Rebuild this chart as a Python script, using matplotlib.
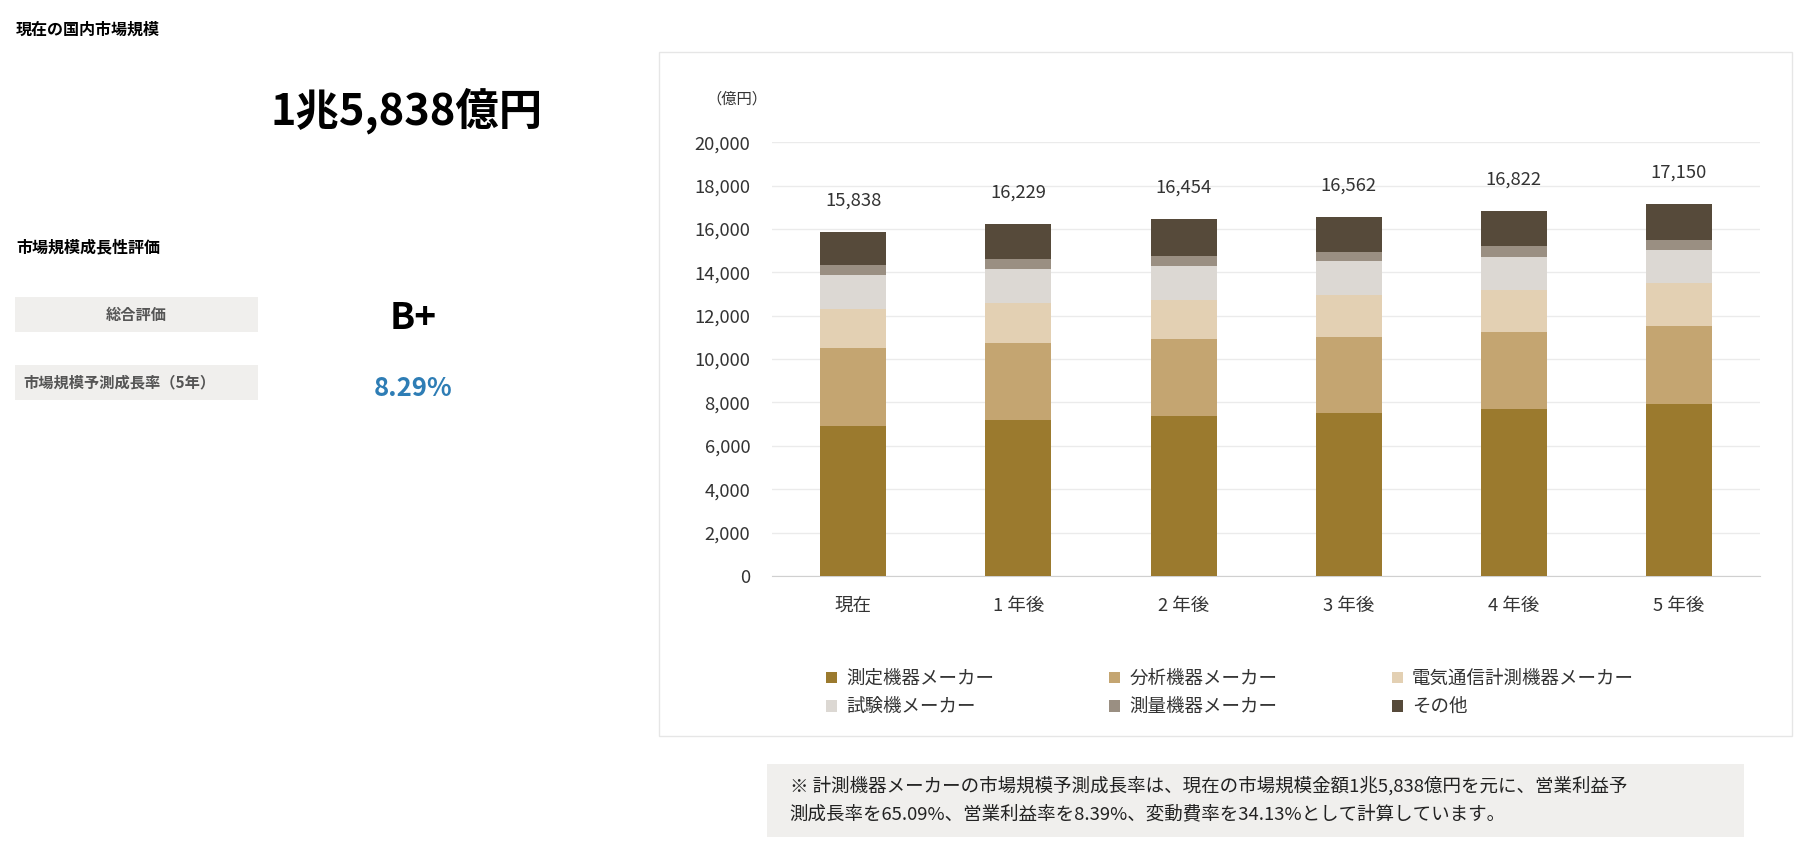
import matplotlib
matplotlib.use("Agg")
import matplotlib.pyplot as plt
from matplotlib.patches import Rectangle

plt.rcParams["font.family"] = ["Noto Sans CJK JP", "DejaVu Sans"]

categories = ["現在", "1 年後", "2 年後", "3 年後", "4 年後", "5 年後"]
series_names = ["測定機器メーカー", "分析機器メーカー", "電気通信計測機器メーカー",
                "試験機メーカー", "測量機器メーカー", "その他"]
measure = [6930, 7200, 7360, 7520, 7680, 7950]
analysis = [3580, 3520, 3570, 3520, 3570, 3570]
telecom = [1810, 1870, 1810, 1920, 1920, 1970]
testing = [1550, 1550, 1550, 1550, 1550, 1550]
survey = [480, 480, 480, 420, 480, 430]
other = [1488, 1609, 1684, 1632, 1622, 1680]
totals = [15838, 16229, 16454, 16562, 16822, 17150]
colors = ["#9B7A2E", "#C4A571", "#E3D0B3", "#DCD8D3", "#9A8F82", "#564A3A"]
yticks = list(range(0, 20001, 2000))

# layout measured on a 1568x735 view of the reference
W, H = 1568, 735
S = 1813 / 1568
fig = plt.figure(figsize=(18.13, 8.5), dpi=100)
def fx(px): return px / W
def fy(py): return 1 - py / H
def fs(v): return v * S

fig.text(fx(14), fy(26), "現在の国内市場規模", fontsize=fs(10), fontweight="bold", va="center")
fig.text(fx(352), fy(96), "1兆5,838億円", fontsize=fs(27), fontweight="bold", ha="center", va="center")
fig.text(fx(14), fy(214), "市場規模成長性評価", fontsize=fs(10), fontweight="bold", va="center")
for y0 in (257, 316):
    fig.patches.append(Rectangle((fx(13), fy(y0+30)), fx(210), 30/H, transform=fig.transFigure,
                                 facecolor="#F0EFED", edgecolor="none", zorder=-5))
fig.text(fx(118), fy(272), "総合評価", fontsize=fs(9.5), fontweight="bold", color="#555555", ha="center", va="center")
fig.text(fx(20), fy(331), "市場規模予測成長率（5年）", fontsize=fs(9.5), fontweight="bold", color="#555555", va="center")
fig.text(fx(357), fy(275), "B+", fontsize=fs(23), fontweight="bold", ha="center", va="center")
fig.text(fx(357), fy(336), "8.29%", fontsize=fs(16), fontweight="bold", color="#2E7DB5", ha="center", va="center")

fig.patches.append(Rectangle((fx(570), fy(636)), fx(980), (636-45)/H, transform=fig.transFigure,
                             facecolor="white", edgecolor="#E6E6E6", lw=1, zorder=-5))

ax = fig.add_axes([fx(668), fy(498), fx(854), 375/H])
ax.set_facecolor("none")
series = [measure, analysis, telecom, testing, survey, other]
bottom = [0]*len(categories)
x = list(range(len(categories)))
for vals, c, name in zip(series, colors, series_names):
    ax.bar(x, vals, bottom=bottom, width=0.4, color=c, label=name, zorder=3)
    bottom = [b+v for b, v in zip(bottom, vals)]
for xi, t in zip(x, totals):
    ax.text(xi, t + 1450, f"{t:,}", ha="center", va="center", fontsize=fs(11.5), color="#333333")
ax.set_xlim(-0.49, 5.49)
ax.set_ylim(0, 20000)
ax.set_yticks(yticks)
ax.set_yticklabels([f"{v:,}" for v in yticks])
ax.set_xticks(x)
ax.set_xticklabels(categories)
ax.tick_params(axis="both", length=0, labelsize=fs(11.5), colors="#333333")
ax.tick_params(axis="x", pad=15)
ax.tick_params(axis="y", pad=16)
ax.grid(axis="y", color="#EBEBEB", lw=1, zorder=0)
for s in ["top", "right", "left"]:
    ax.spines[s].set_visible(False)
ax.spines["bottom"].set_color("#D0D0D0")
fig.text(fx(611), fy(86), "（億円）", fontsize=fs(9.5), color="#333333", va="center")

handles, labels = ax.get_legend_handles_labels()
order = [0, 3, 1, 4, 2, 5]
leg = fig.legend([handles[i] for i in order], [labels[i] for i in order], ncol=3, loc="upper left",
                 bbox_to_anchor=(fx(700), fy(565)), frameon=False, fontsize=fs(11.5),
                 handlelength=0.6, handleheight=0.6, columnspacing=6.2, handletextpad=0.5,
                 labelspacing=0.55)
for t in leg.get_texts():
    t.set_color("#333333")

fig.patches.append(Rectangle((fx(663), fy(724)), fx(845), 63/H, transform=fig.transFigure,
                             facecolor="#F0EFED", edgecolor="none", zorder=-5))
fig.text(fx(683), fy(680), "※ 計測機器メーカーの市場規模予測成長率は、現在の市場規模金額1兆5,838億円を元に、営業利益予",
         fontsize=fs(11.5), color="#222222", va="center")
fig.text(fx(683), fy(704), "測成長率を65.09%、営業利益率を8.39%、変動費率を34.13%として計算しています。",
         fontsize=fs(11.5), color="#222222", va="center")

fig.savefig("out.png", dpi=100)
